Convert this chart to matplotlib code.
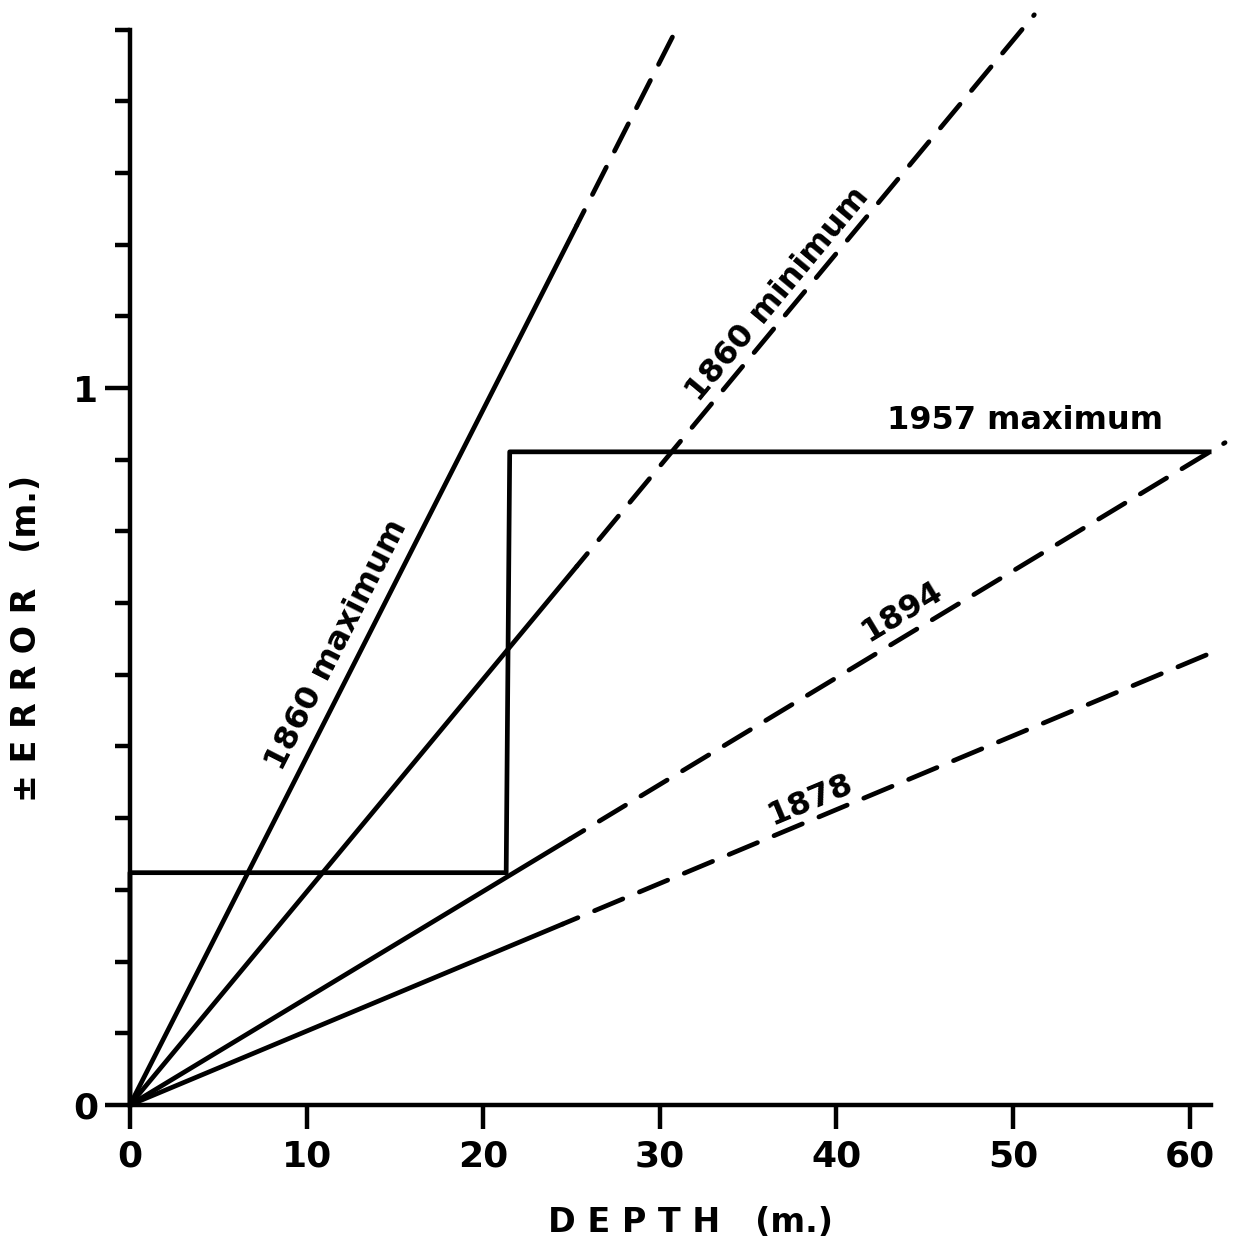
import numpy as np
import matplotlib
matplotlib.use("Agg")
import matplotlib.pyplot as plt
from matplotlib.ticker import MultipleLocator

# error lines: error = slope * depth, solid up to 25 m, dashed beyond
names = ["1860 maximum", "1860 minimum", "1894", "1878"]
slopes = [0.0485, 0.0297, 0.0149, 0.0103]
solid_end = [25.3, 25.3, 24.9, 24.5]
dash_end = [30.8, 51.2, 62.0, 61.1]

# 1957 maximum step
step_x = [0, 0, 21.3, 21.5, 61.1]
step_y = [0, 0.324, 0.324, 0.911, 0.911]

# label positions (depth, error)
lab_x = [11.7, 36.7, 43.7, 38.5]
lab_y = [0.642, 1.13, 0.688, 0.425]

xticks = [0, 10, 20, 30, 40, 50, 60]

plt.rcParams['font.family'] = ['DejaVu Sans']
plt.rcParams['font.weight'] = 'bold'

fig = plt.figure(figsize=(12.33, 12.47), dpi=100)
ax = fig.add_axes([0.1054, 0.1139, 0.8767, 0.8624])
ax.set_xlim(0, 61.2)
ax.set_ylim(0, 1.5)

lw = 3.4
for s, e1, e2 in zip(slopes, solid_end, dash_end):
    ax.plot([0, e1], [0, s * e1], color="black", lw=lw, solid_capstyle="round", clip_on=False)
    ax.plot([e1, e2], [s * e1, s * e2], color="black", lw=lw, clip_on=False,
            linestyle=(3, (6.5, 3.8)), dash_capstyle="round")

ax.plot(step_x, step_y, color="black", lw=lw, clip_on=False)

for n, s, x, y in zip(names, slopes, lab_x, lab_y):
    ang = ax.transData.transform_angles(np.array([np.degrees(np.arctan(s))]),
                                        np.array([[x, y]]))[0]
    ax.text(x, y, n, rotation=ang, rotation_mode="anchor", ha="center", va="center",
            fontsize=23, fontweight="bold")

ax.text(50.7, 0.955, "1957 maximum", ha="center", va="center", fontsize=23, fontweight="bold")

for side in ["top", "right"]:
    ax.spines[side].set_visible(False)
for side in ["left", "bottom"]:
    ax.spines[side].set_linewidth(3.2)

ax.set_xticks(xticks)
ax.set_xticklabels([str(t) for t in xticks])
ax.set_yticks([0, 1])
ax.set_yticklabels(["0", "1"])
ax.yaxis.set_minor_locator(MultipleLocator(0.1))
ax.tick_params(axis="x", direction="out", length=17, width=3.2, pad=8, labelsize=26)
ax.tick_params(axis="y", which="major", direction="out", length=18, width=3.2, pad=5, labelsize=26)
ax.tick_params(axis="y", which="minor", direction="out", length=11, width=3.2)

fig.text(690 / 1233, 1 - 1222 / 1247, "D E P T H   (m.)", ha="center", va="center",
         fontsize=24, fontweight="bold")
fig.text(27 / 1233, 1 - 638 / 1247, "± E R R O R   (m.)", ha="center", va="center",
         rotation=90, fontsize=24, fontweight="bold")

fig.savefig("out.png", dpi=100)
